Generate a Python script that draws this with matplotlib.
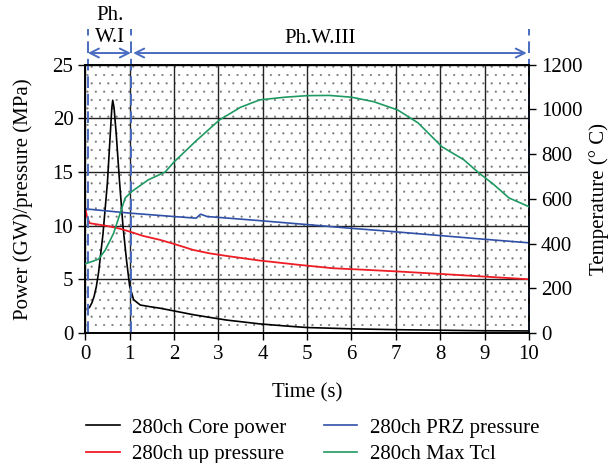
import matplotlib.pyplot as plt
from matplotlib.patches import Rectangle

# time axes (s) for each trace
t_power = [0.05, 0.1, 0.15, 0.2, 0.25, 0.3, 0.4, 0.5, 0.55, 0.6, 0.62, 0.65, 0.7,
           0.77, 0.85, 0.93, 1.0, 1.09, 1.24, 1.45, 1.69, 2.0, 2.43, 2.8, 3.18,
           3.6, 3.93, 4.5, 5.0, 6.0, 7.0, 8.0, 9.0, 10.0]
core_power = [2.2, 2.4, 2.8, 3.4, 4.3, 5.6, 9.2, 14.0, 17.5, 21.0, 21.7, 21.0, 18.5,
              14.3, 10.0, 6.8, 4.4, 3.1, 2.6, 2.45, 2.3, 2.05, 1.7, 1.45, 1.2,
              1.0, 0.84, 0.65, 0.5, 0.38, 0.3, 0.25, 0.2, 0.18]

t_up = [0.0, 0.04, 0.1, 0.3, 0.56, 0.8, 1.0, 1.3, 1.69, 2.0, 2.43, 2.8, 3.18, 3.93,
        4.83, 5.58, 6.33, 7.08, 8.0, 9.0, 10.0]
up_pressure = [11.66, 10.85, 10.23, 10.1, 9.92, 9.7, 9.45, 9.05, 8.67, 8.3, 7.74, 7.42,
               7.18, 6.75, 6.34, 6.03, 5.88, 5.72, 5.5, 5.25, 5.0]

t_prz = [0.0, 1.0, 2.0, 2.5, 2.6, 2.75, 3.07, 3.93, 5.0, 6.0, 6.63, 7.5, 8.88, 10.0]
prz_pressure = [11.57, 11.17, 10.85, 10.7, 11.07, 10.85, 10.75, 10.47, 10.1, 9.75,
                9.55, 9.25, 8.77, 8.4]

t_tcl = [0.0, 0.3, 0.45, 0.64, 0.79, 0.9, 1.05, 1.42, 1.8, 2.0, 2.5, 3.03, 3.5, 3.93,
         4.5, 5.0, 5.5, 6.0, 6.5, 7.04, 7.5, 8.04, 8.53, 8.87, 9.2, 9.55, 10.0]
max_tcl = [309, 330, 370, 446, 537, 604, 633, 685, 720, 765, 860, 954, 1010, 1043,
           1055, 1062, 1063, 1055, 1035, 998, 940, 833, 775, 716, 665, 604, 565]

x_ticks = list(range(0, 11))
left_ticks = [0, 5, 10, 15, 20, 25]
right_ticks = [0, 200, 400, 600, 800, 1000, 1200]

phase1_start, phase1_end, phase3_start, phase3_end = 0.06, 1.03, 1.08, 10.0

plt.rcParams['font.family'] = ['Liberation Serif', 'DejaVu Serif']
plt.rcParams['hatch.linewidth'] = 0.3
plt.rcParams['hatch.color'] = '#777777'

fs = 15

fig = plt.figure(figsize=(6.13, 4.63), dpi=100)
ax = fig.add_axes([0.139, 0.281, 0.724, 0.579])
ax2 = ax.twinx()

# dotted background texture
ax.add_patch(Rectangle((0, 0), 1, 1, transform=ax.transAxes, facecolor='none',
                       edgecolor='#777777', hatch='..', linewidth=0, zorder=0))

ax.set_xlim(0, 10)
ax.set_ylim(0, 25)
ax2.set_ylim(0, 1200)
ax.set_xticks(x_ticks)
ax.set_yticks(left_ticks)
ax2.set_yticks(right_ticks)
ax.grid(True, color='#222222', linewidth=1.0, zorder=1)
ax.set_axisbelow(True)

l1, = ax.plot(t_power, core_power, color='black', lw=1.2, label='280ch Core power', zorder=3)
l2, = ax.plot(t_up, up_pressure, color='#ee1c24', lw=1.3, label='280ch up pressure', zorder=3)
l3, = ax.plot(t_prz, prz_pressure, color='#3050a8', lw=1.2, label='280ch PRZ pressure', zorder=3)
l4, = ax2.plot(t_tcl, max_tcl, color='#1f9a62', lw=1.2, label='280ch Max Tcl', zorder=3)

for a in (ax, ax2):
    a.tick_params(labelsize=fs, length=5, width=1.0, direction='out')
    for s in a.spines.values():
        s.set_linewidth(1.2)
ax.set_xlabel('Time (s)', fontsize=fs, labelpad=14)
ax.set_ylabel('Power (GW)/pressure (MPa)', fontsize=fs, labelpad=14)
ax2.set_ylabel('Temperature (° C)', fontsize=fs, labelpad=5)

# phase markers
dash_col = '#4a6cc0'
for xv in (phase1_start, phase1_end, phase3_end):
    ax.plot([xv, xv], [0, 28.3], color=dash_col, lw=1.4, ls=(0, (6, 3)),
            clip_on=False, zorder=4)
arrow = dict(arrowstyle='<->', color=dash_col, lw=1.4, mutation_scale=16,
             shrinkA=0, shrinkB=0)
ax.annotate('', xy=(phase1_start, 26.1), xytext=(phase1_end, 26.1),
            arrowprops=arrow, annotation_clip=False)
ax.annotate('', xy=(phase3_start, 26.1), xytext=(phase3_end - 0.05, 26.1),
            arrowprops=arrow, annotation_clip=False)
ax.text(0.56, 26.7, 'Ph.\nW.I', ha='center', va='bottom', fontsize=fs,
        linespacing=1.15, clip_on=False)
ax.text(5.3, 26.55, 'Ph.W.III', ha='center', va='bottom', fontsize=fs, clip_on=False)

fig.legend([l1, l2, l3, l4], [h.get_label() for h in (l1, l2, l3, l4)],
           loc='center', bbox_to_anchor=(0.51, 0.047), ncol=2, frameon=False,
           fontsize=fs, handlelength=1.6, handletextpad=0.6, columnspacing=1.8,
           labelspacing=0.35, borderpad=0)

fig.savefig('out.png', dpi=100)
